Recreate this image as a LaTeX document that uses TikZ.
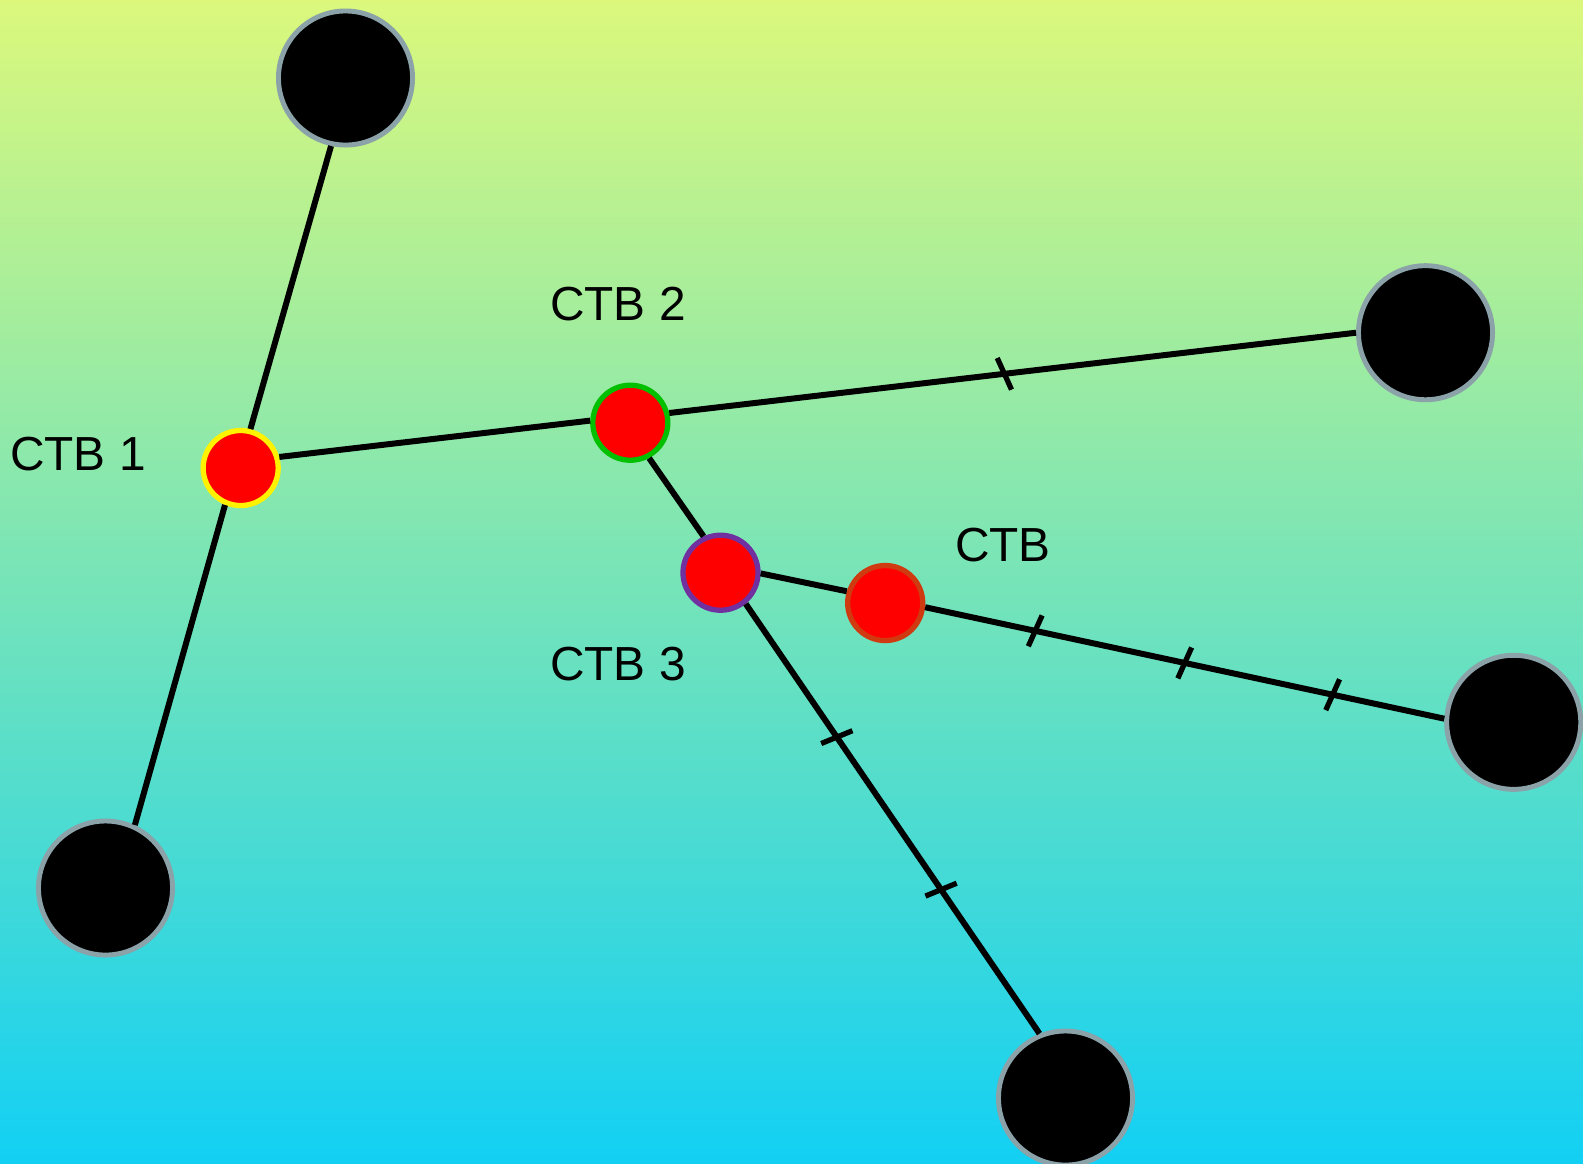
\documentclass[tikz,border=0pt]{standalone}
\usepackage{fontspec}
\setmainfont{Liberation Sans}
\usetikzlibrary{decorations.markings}
\definecolor{bgtop}{HTML}{DBF87C}
\definecolor{bgbottom}{HTML}{12D0F4}
\definecolor{polegray}{HTML}{8AA2A8}
\definecolor{ctbgreen}{HTML}{00C000}
\definecolor{ctbpurple}{HTML}{7030A0}
\definecolor{ctborange}{HTML}{D03A10}
\tikzset{
  pole/.style={circle,fill=black,draw=polegray,line width=1.4pt,minimum size=1.34cm,inner sep=0pt},
  ctb/.style={circle,fill=red,line width=1.5pt,minimum size=0.75cm,inner sep=0pt},
  ctblabel/.style={font=\fontsize{13.6}{16}\selectfont,inner sep=0pt},
  cable/.style={line width=1.7pt},
  tickmark/.style={line width=1.5pt},
  ticked/.style={postaction={decorate,decoration={markings,
    mark=at position #1 with {\draw[tickmark] (-1pt,-4.7pt) -- (1pt,4.7pt);}}}},
  ticked back/.style={postaction={decorate,decoration={markings,
    mark=at position #1 with {\draw[tickmark] (1.5pt,-4.7pt) -- (-1.5pt,4.7pt);}}}}
}
\begin{document}
\begin{tikzpicture}[x=0.01cm,y=-0.01cm]
    % background
    \shade[top color=bgtop,bottom color=bgbottom] (0,0) rectangle (1583,1163);
    \useasboundingbox (0,0) rectangle (1583,1163);
    % poles
    \node[pole] (P1) at (345.5,78) {};
    \node[pole] (P2) at (1425.5,332.7) {};
    \node[pole] (P3) at (1513.7,722.3) {};
    \node[pole] (P4) at (1065.5,1098) {};
    \node[pole] (P5) at (105.5,888) {};
    % boxes
    \node[ctb,draw=yellow] (C1) at (240.7,468) {};
    \node[ctb,draw=ctbgreen] (C2) at (630.3,422.7) {};
    \node[ctb,draw=ctbpurple] (C3) at (720.5,572.7) {};
    \node[ctb,draw=ctborange] (C4) at (885.2,603) {};
    % cables
    \draw[cable] (P1.258.6) -- (C1.76);
    \draw[cable] (C1.247) -- (P5.65.5);
    \draw[cable] (C1.16) -- (C2.177.5);
    \draw[cable,ticked back=0.488] (C2.14) -- (P2.180);
    \draw[cable] (C2.298) -- (C3.115.5);
    \draw[cable,ticked=0.31,ticked=0.665] (C3.309) -- (P4.112.7);
    \draw[cable] (C3.359) -- (C4.163.6);
    \draw[cable,ticked=0.212,ticked=0.5,ticked=0.785] (C4.354) -- (P3.177);
    % labels
    \node[ctblabel] (L1) at (78,454) {CTB 1};
    \node[ctblabel] (L2) at (618,304) {CTB 2};
    \node[ctblabel] (L3) at (618,664) {CTB 3};
    \node[ctblabel] (L4) at (1003,545) {CTB};
\end{tikzpicture}
\end{document}
